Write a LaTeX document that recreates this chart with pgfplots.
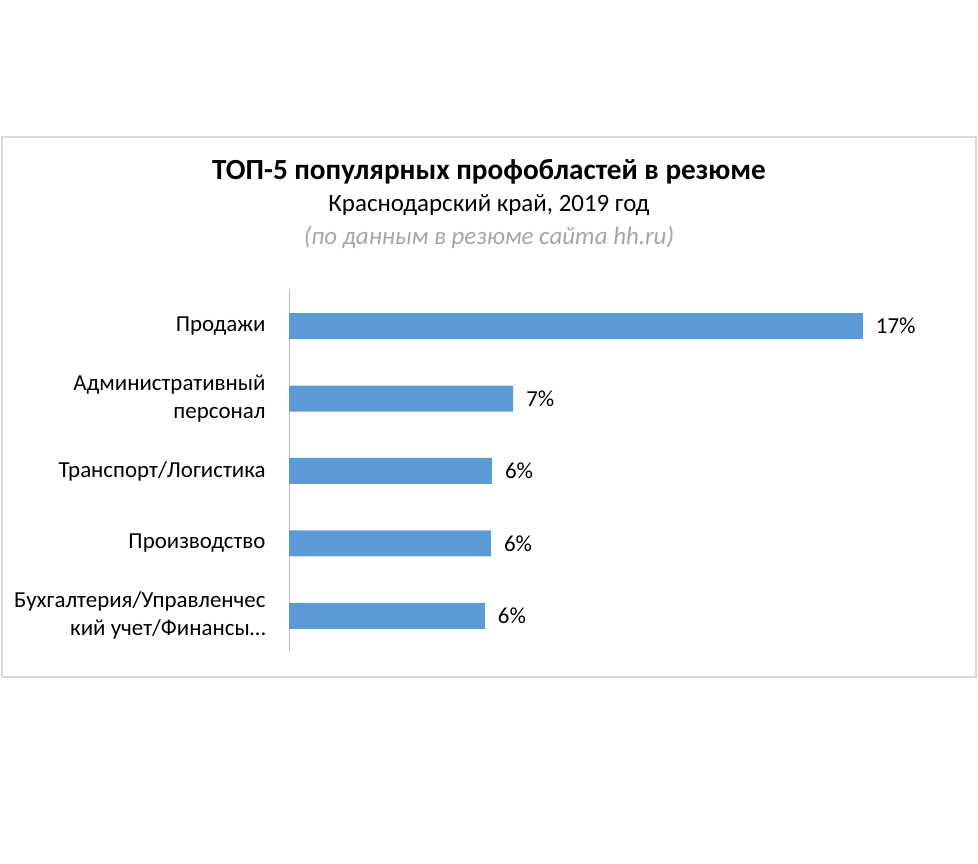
\documentclass[border=0pt]{standalone}
\usepackage{pgfplots}
\pgfplotsset{compat=1.18}
\usepackage{fontspec}
\setmainfont{Carlito}
\definecolor{barblue}{HTML}{5B9BD5}
\definecolor{framegray}{HTML}{D9D9D9}
\definecolor{subgray}{HTML}{A6A6A6}
\begin{document}
\begin{tikzpicture}
\useasboundingbox (0,0) rectangle (978bp,864bp);
\fill[white] (0,0) rectangle (978bp,864bp);
\draw[draw=framegray, line width=2bp] (2bp,187bp) rectangle (976bp,727bp);
\node[font=\fontsize{29.3}{34}\selectfont\bfseries] at (489bp,692bp) {ТОП-5 популярных профобластей в резюме};
\node[font=\fontsize{25}{30}\selectfont] at (489bp,659bp) {Краснодарский край, 2019 год};
\node[font=\fontsize{25}{30}\selectfont\itshape, text=subgray] at (489bp,627bp) {(по данным в резюме сайта hh.ru)};
\begin{axis}[
  at={(289bp,212bp)}, anchor=south west,
  scale only axis, width=675bp, height=362bp,
  xmin=0, xmax=20, ymin=-0.5, ymax=4.5,
  y dir=reverse,
  hide x axis,
  axis y line*=left,
  y axis line style={draw=gray!50, line width=1bp},
  ytick={0,1,2,3,4},
  yticklabels={Продажи, {Административный\\персонал}, Транспорт/Логистика, Производство, {Бухгалтерия/Управленчес\\кий учет/Финансы…}},
  ytick style={draw=none},
  yticklabel style={font=\fontsize{23}{28}\selectfont, align=right, anchor=east, inner sep=0pt, xshift=-19bp},
  xbar, bar width=26bp,
  nodes near coords,
  point meta=explicit symbolic,
  nodes near coords style={anchor=west, inner sep=0pt, xshift=13bp, font=\fontsize{23}{28}\selectfont},
]
\addplot[fill=barblue, draw=none] coordinates {(17.0,0) [17\%] (6.64,1) [7\%] (6.01,2) [6\%] (5.98,3) [6\%] (5.80,4) [6\%]};
\end{axis}
\end{tikzpicture}
\end{document}
